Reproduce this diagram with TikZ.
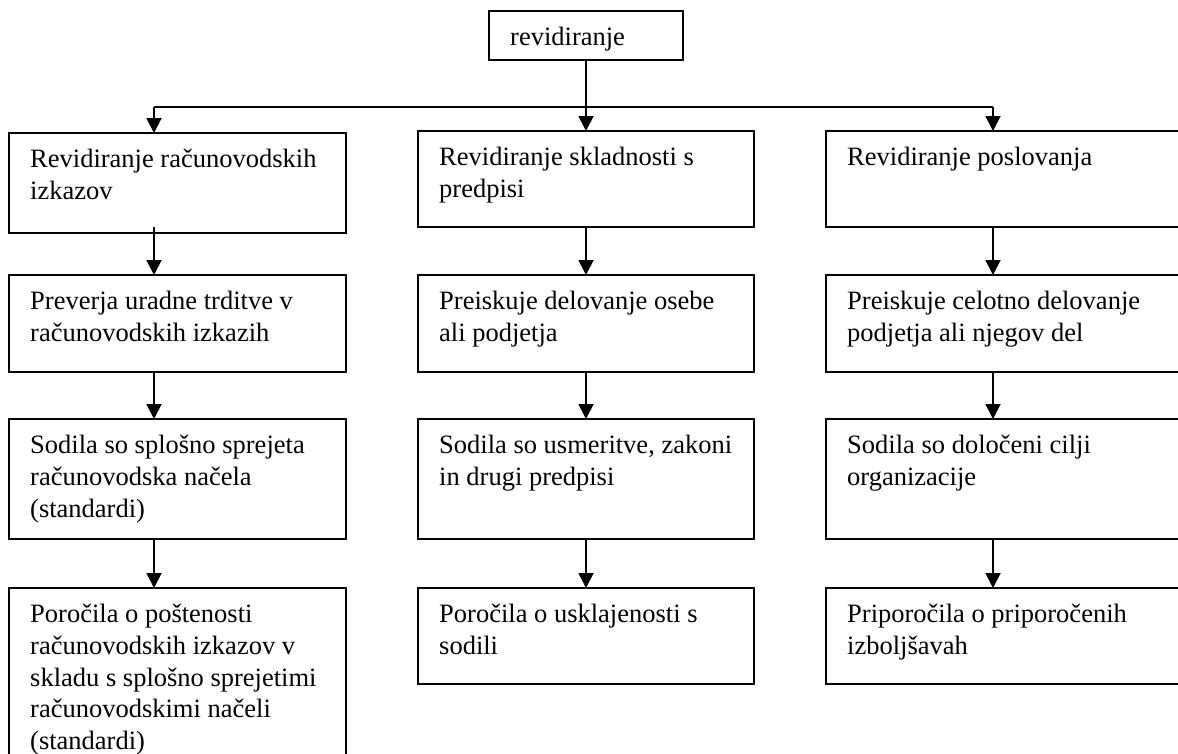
\documentclass[tikz,border=0pt]{standalone}
\usepackage{fontspec}
\setmainfont{Liberation Serif}
\usetikzlibrary{arrows.meta}
\newcommand\boxfont{\fontsize{26.5}{31.7}\selectfont}
% framed box with its text set from the top-left corner
\newcommand\textbox[6]{%
  \node[box, minimum width=#4pt, minimum height=#5pt] (#1) at (#2,#3) {};
  \node[txt] (#1-t) at ([xshift=21pt,yshift=-12.3pt]#1.north west) {\strut #6};
}

\begin{document}
\begin{tikzpicture}[x=1pt,y=-1pt,
  box/.style={draw, line width=1.9pt, rectangle, anchor=north west, inner sep=0pt, outer sep=0pt},
  txt/.style={anchor=north west, inner sep=0pt, align=left, font=\boxfont},
  line/.style={line width=1.9pt},
  arr/.style={line width=1.9pt, -{Triangle[width=15pt,length=15pt]}}]

\clip (0,0) rectangle (1178,753);

% root
\textbox{T}{489}{11}{194}{49}{revidiranje}

% first column
\textbox{L1}{9}{133}{337}{100}{Revidiranje računovodskih\\izkazov}
\textbox{L2}{9}{275}{337}{97}{Preverja uradne trditve v\\računovodskih izkazih}
\textbox{L3}{9}{419}{337}{120}{Sodila so splošno sprejeta\\računovodska načela\\(standardi)}
\textbox{L4}{9}{588}{337}{220}{Poročila o poštenosti\\računovodskih izkazov v\\skladu s splošno sprejetimi\\računovodskimi načeli\\(standardi)}

% second column
\textbox{M1}{418}{131}{336}{96}{Revidiranje skladnosti s\\predpisi}
\textbox{M2}{418}{275}{336}{97}{Preiskuje delovanje osebe\\ali podjetja}
\textbox{M3}{418}{419}{336}{120}{Sodila so usmeritve, zakoni\\in drugi predpisi}
\textbox{M4}{418}{588}{336}{96}{Poročila o usklajenosti s\\sodili}

% third column
\textbox{R1}{826}{131}{400}{96}{Revidiranje poslovanja}
\textbox{R2}{826}{275}{400}{97}{Preiskuje celotno delovanje\\podjetja ali njegov del}
\textbox{R3}{826}{419}{400}{120}{Sodila so določeni cilji\\organizacije}
\textbox{R4}{826}{588}{400}{96}{Priporočila o priporočenih\\izboljšavah}

% connector guides
\coordinate (bus) at (0,107);
\coordinate (colL) at (154,0);
\coordinate (colR) at (993,0);

% distribution line from the root
\draw[line] (colL |- bus) -- (colR |- bus);
\draw[arr] (T.south) -- (T.south |- M1.north);
\draw[arr] (colL |- bus) -- (colL |- L1.north);
\draw[arr] (colR |- bus) -- (colR |- R1.north);

% first column chain
\draw[arr] (colL |- M1.south) -- (colL |- L2.north);
\draw[arr] (colL |- L2.south) -- (colL |- L3.north);
\draw[arr] (colL |- L3.south) -- (colL |- L4.north);

% second column chain
\draw[arr] (M1.south) -- (M2.north);
\draw[arr] (M2.south) -- (M3.north);
\draw[arr] (M3.south) -- (M4.north);

% third column chain
\draw[arr] (colR |- R1.south) -- (colR |- R2.north);
\draw[arr] (colR |- R2.south) -- (colR |- R3.north);
\draw[arr] (colR |- R3.south) -- (colR |- R4.north);
\end{tikzpicture}
\end{document}
